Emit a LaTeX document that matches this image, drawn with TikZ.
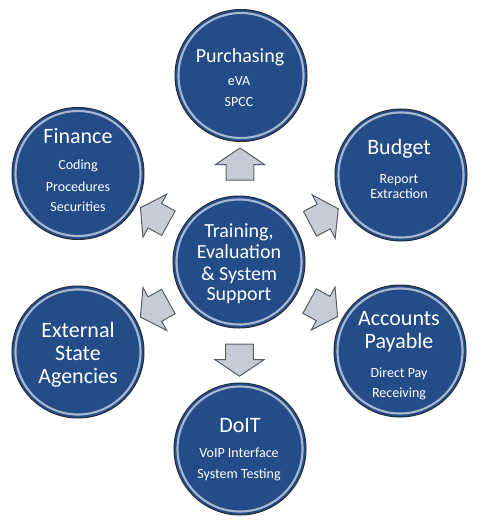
\documentclass[tikz,border=0pt]{standalone}
\usepackage{fontspec}
\setmainfont{Carlito}
\usetikzlibrary{shapes.arrows}
\definecolor{bubbleblue}{RGB}{36,76,136}
\definecolor{bubbleedge}{RGB}{38,44,58}
\definecolor{arrowgray}{RGB}{198,203,213}
\definecolor{arrowedge}{RGB}{88,92,100}
\tikzset{every picture/.style={line width=0.75pt}}
\tikzset{
  bubble/.style={circle, minimum size=99pt, inner sep=0pt, fill=bubbleblue, draw=bubbleedge},
  bevel/.style={draw=white, draw opacity=0.6, line width=1.6pt},
  blockarrow/.style={single arrow, draw=arrowedge, fill=arrowgray, inner xsep=0pt, inner ysep=10.1pt,
    minimum height=24pt, single arrow head extend=7.9pt, single arrow tip angle=112},
  title/.style={anchor=base, text=white, inner sep=0.75pt, font=\fontsize{16.5}{20}\selectfont},
  hubtext/.style={anchor=base, text=white, inner sep=0.75pt, font=\fontsize{15}{18}\selectfont},
  sub/.style={anchor=base, text=white, inner sep=0.75pt, font=\fontsize{10.5}{13}\selectfont}
}

\begin{document}
\begin{tikzpicture}[x=0.75pt,y=0.75pt,yscale=-1,xscale=1]
	\useasboundingbox (0,0) rectangle (477,524);

	%Shape: Circle [hub]
	\node[bubble] (hub) at (239,262) {};
	%Shape: Circle [purchasing]
	\node[bubble] (pur) at (241,75.5) {};
	%Shape: Circle [finance]
	\node[bubble] (fin) at (78,173.5) {};
	%Shape: Circle [budget]
	\node[bubble] (bud) at (401,175) {};
	%Shape: Circle [external]
	\node[bubble] (ext) at (78,352) {};
	%Shape: Circle [accounts payable]
	\node[bubble] (acp) at (400,351) {};
	%Shape: Circle [doit]
	\node[bubble] (doit) at (240,449) {};
	%Bevel rings
	\foreach \n in {hub,pur,fin,bud,ext,acp,doit}
		\draw[bevel] (\n.center) circle (62.5);

	%Block arrows
	\foreach \n/\ang in {pur/90,fin/151,bud/28,ext/209,acp/331,doit/270}
		\path (hub) -- (\n) node[blockarrow, midway, rotate=\ang] (a-\n) {};

	% Text Node
	\node[hubtext] (hubT1) at (239,237) {Training,};
	\node[hubtext] (hubT2) at (239,258) {Evaluation};
	\node[hubtext] (hubT3) at (239,280) {\& System};
	\node[hubtext] (hubT4) at (239,300) {Support};
	% Text Node
	\node[hubtext] (purT) at (240,63) {Purchasing};
	\node[sub] (purS1) at (239,86) {eVA};
	\node[sub] (purS2) at (239,107) {SPCC};
	% Text Node
	\node[title] (finT) at (78,143) {Finance};
	\node[sub] (finS1) at (78,170) {Coding};
	\node[sub] (finS2) at (78,191) {Procedures};
	\node[sub] (finS3) at (78,211) {Securities};
	% Text Node
	\node[title] (budT) at (399,155) {Budget};
	\node[sub] (budS1) at (399,183) {Report};
	\node[sub] (budS2) at (399,198) {Extraction};
	% Text Node
	\node[title] (extT1) at (78,337) {External};
	\node[title] (extT2) at (78,360) {State};
	\node[title] (extT3) at (78,383) {Agencies};
	% Text Node
	\node[title] (acpT1) at (399,325) {Accounts};
	\node[title] (acpT2) at (399,348) {Payable};
	\node[sub] (acpS1) at (399,377) {Direct Pay};
	\node[sub] (acpS2) at (399,397) {Receiving};
	% Text Node
	\node[title] (doitT) at (240,432) {DoIT};
	\node[sub] (doitS1) at (239,457) {VoIP Interface};
	\node[sub] (doitS2) at (239,478) {System Testing};
\end{tikzpicture}
\end{document}
